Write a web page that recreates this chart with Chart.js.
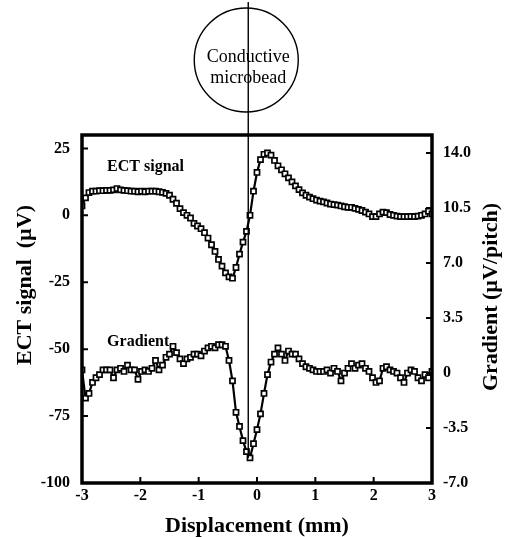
<!DOCTYPE html>
<html><head><meta charset="utf-8">
<script src="https://cdn.jsdelivr.net/npm/chart.js@4/dist/chart.umd.min.js"></script>
<style>html,body{margin:0;padding:0;background:#fff}#wrap{width:505px;height:537px}</style>
</head><body><div id="wrap"><canvas id="c" width="505" height="537"></canvas></div>
<script>
const displacement = [-3,-2.94,-2.88,-2.82,-2.76,-2.7,-2.64,-2.58,-2.52,-2.46,
 -2.4,-2.34,-2.28,-2.22,-2.16,-2.1,-2.04,-1.98,-1.92,-1.86,
 -1.8,-1.74,-1.68,-1.62,-1.56,-1.5,-1.44,-1.38,-1.32,-1.26,
 -1.2,-1.14,-1.08,-1.02,-0.96,-0.9,-0.84,-0.78,-0.72,-0.66,
 -0.6,-0.54,-0.48,-0.42,-0.36,-0.3,-0.24,-0.18,-0.12,-0.06,
 0,
 0.06,0.12,0.18,0.24,0.3,0.36,0.42,0.48,0.54,0.6,
 0.66,0.72,0.78,0.84,0.9,0.96,1.02,1.08,1.14,1.2,
 1.26,1.32,1.38,1.44,1.5,1.56,1.62,1.68,1.74,1.8,
 1.86,1.92,1.98,2.04,2.1,2.16,2.22,2.28,2.34,2.4,
 2.46,2.52,2.58,2.64,2.7,2.76,2.82,2.88,2.94,3];
const ectSignal = [3.5,6.5,8.5,9,9,9.2,9.2,9.3,9.3,9.5,
 10,9.5,9.3,9.2,9,9,8.8,9,8.8,9,
 9,9,8.8,8.6,8.2,7.5,6,4.5,2.5,1,
 0,-1,-3,-4,-5,-6.5,-8.5,-11,-13.5,-16.5,
 -19,-21.5,-23,-23.5,-19.5,-14.5,-10,-6,0,9,
 16,
 20.8,22.8,23.3,22.5,20.5,18.5,17,15.5,14,12.5,
 11,9.6,8.4,7.5,6.8,6.2,5.7,5.3,5,4.6,
 4.2,4,3.8,3.5,3.2,3,3,2.6,2.2,1.8,
 1.2,0.5,-0.5,-0.5,0.5,1.2,1,0.3,0,-0.3,
 -0.5,-0.5,-0.5,-0.4,-0.5,-0.3,0,0.5,1.5,0.5];
const gradient = [0.2,-1.6,-1.3,-0.6,-0.3,-0.1,0.2,0.2,0.2,-0.3,
 0.2,0.3,0.1,0.5,0.2,0.2,-0.4,0.1,0.2,0.1,
 0.3,0.8,0.2,0.5,1.0,1.2,1.7,1.3,0.9,0.6,
 0.9,1.0,1.2,1.2,1.1,1.4,1.6,1.7,1.6,1.8,
 1.8,1.7,0.8,-0.5,-2.5,-3.4,-4.3,-5.0,-5.4,-4.5,
 -3.6,
 -2.6,-1.3,-0.1,0.7,1.2,1.6,1.2,0.8,1.4,1.2,
 1.2,0.9,0.6,0.4,0.3,0.2,0.1,0.1,0.1,0.2,
 0.0,0.3,0.1,-0.5,0.0,0.3,0.6,0.3,0.5,0.6,
 0.3,0.1,-0.3,-0.6,-0.5,0.3,0.4,0.2,0.1,0.0,
 -0.3,-0.6,0.0,0.2,0.1,-0.3,-0.5,-0.1,-0.3,0.1];
const xTicks = [-3,-2,-1,0,1,2,3];
const leftTicks = [-100,-75,-50,-25,0,25];
const rightTicks = [-7,-3.5,0,3.5,7,10.5,14];
const beadPosition = -0.15;
const SERIF = "'Liberation Serif','Times New Roman',serif";

function pts(ys){ return displacement.map((x,i)=>({x:x,y:ys[i]})); }

const overlay = {
  id:'overlay',
  afterDraw(chart){
    const {ctx, chartArea:a, scales} = chart;
    const xs = scales.x, yl = scales.yL, yr = scales.yR;
    ctx.save();
    ctx.strokeStyle = '#000';
    // inward ticks
    ctx.lineWidth = 2;
    ctx.beginPath();
    leftTicks.forEach(v=>{const y=yl.getPixelForValue(v); ctx.moveTo(a.left,y); ctx.lineTo(a.left+6,y);});
    rightTicks.forEach(v=>{const y=yr.getPixelForValue(v); ctx.moveTo(a.right,y); ctx.lineTo(a.right-6,y);});
    xTicks.forEach(v=>{const x=xs.getPixelForValue(v); ctx.moveTo(x,a.bottom); ctx.lineTo(x,a.bottom-6);});
    ctx.stroke();
    // frame
    ctx.lineWidth = 3.5;
    ctx.strokeRect(a.left, a.top, a.right-a.left, a.bottom-a.top);
    // bead line and circle
    const bx = xs.getPixelForValue(beadPosition);
    ctx.lineWidth = 1.4;
    ctx.beginPath(); ctx.moveTo(bx, 2); ctx.lineTo(bx, 458); ctx.stroke();
    ctx.beginPath(); ctx.arc(bx-2, 60, 52, 0, Math.PI*2); ctx.stroke();
    ctx.fillStyle = '#000';
    ctx.textAlign = 'center'; ctx.textBaseline = 'middle';
    ctx.font = "18px " + SERIF;
    ctx.fillText('Conductive', bx, 57);
    ctx.fillText('microbead', bx, 78);
    // series labels
    ctx.font = "bold 16px " + SERIF;
    ctx.textAlign = 'left';
    ctx.fillText('ECT signal', xs.getPixelForValue(-2.57), yl.getPixelForValue(18));
    ctx.fillText('Gradient', xs.getPixelForValue(-2.57), yr.getPixelForValue(2.0));
    // axis titles (both read bottom to top)
    ctx.textAlign = 'center';
    ctx.font = "bold 22px " + SERIF;
    ctx.save();
    ctx.translate(25, 285);
    ctx.rotate(-Math.PI/2);
    ctx.fillText('ECT signal  (\u00b5V)', 0, 0);
    ctx.restore();
    ctx.translate(491, 297);
    ctx.rotate(-Math.PI/2);
    ctx.fillText('Gradient (\u00b5V/pitch)', 0, 0);
    ctx.restore();
  }
};

const tickFont = {family: SERIF, size: 16, weight: 'bold'};
const ds = {showLine:true, borderColor:'#000', borderWidth:2.2, pointStyle:'rect', pointRadius:3.6,
  pointBackgroundColor:'#fff', pointBorderColor:'#000', pointBorderWidth:1.7};
new Chart(document.getElementById('c'), {
  type: 'scatter',
  data: { datasets: [
    Object.assign({ label:'ECT signal', data: pts(ectSignal), yAxisID:'yL' }, ds),
    Object.assign({ label:'Gradient', data: pts(gradient), yAxisID:'yR' }, ds)
  ]},
  options: {
    responsive:false, animation:false,
    layout:{padding:{top:135,left:0,right:0,bottom:0}},
    plugins:{legend:{display:false}, tooltip:{enabled:false}},
    scales:{
      x:{ type:'linear', min:-3, max:3,
        afterBuildTicks(s){ s.ticks = xTicks.map(v=>({value:v})); },
        afterFit(s){ s.height = 54; },
        grid:{display:false, drawTicks:false}, border:{display:false},
        ticks:{color:'#000', font:tickFont, padding:3, maxRotation:0},
        title:{display:true, text:'Displacement (mm)', color:'#000',
          font:{family:SERIF, size:22, weight:'bold', lineHeight:1}, padding:{top:0,bottom:0}} },
      yL:{ type:'linear', position:'left', min:-100, max:30,
        afterBuildTicks(s){ s.ticks = leftTicks.map(v=>({value:v})); },
        afterFit(s){ s.width = 82; },
        grid:{display:false, drawTicks:false}, border:{display:false},
        ticks:{color:'#000', font:tickFont, padding:12} },
      yR:{ type:'linear', position:'right', min:-7, max:15.15,
        afterBuildTicks(s){ s.ticks = rightTicks.map(v=>({value:v})); },
        afterFit(s){ s.width = 73; },
        grid:{display:false, drawTicks:false}, border:{display:false},
        ticks:{color:'#000', font:tickFont, padding:11,
          callback:(v)=> v===0 ? '0' : v.toFixed(1)} }
    }
  },
  plugins:[overlay]
});
</script></body></html>
